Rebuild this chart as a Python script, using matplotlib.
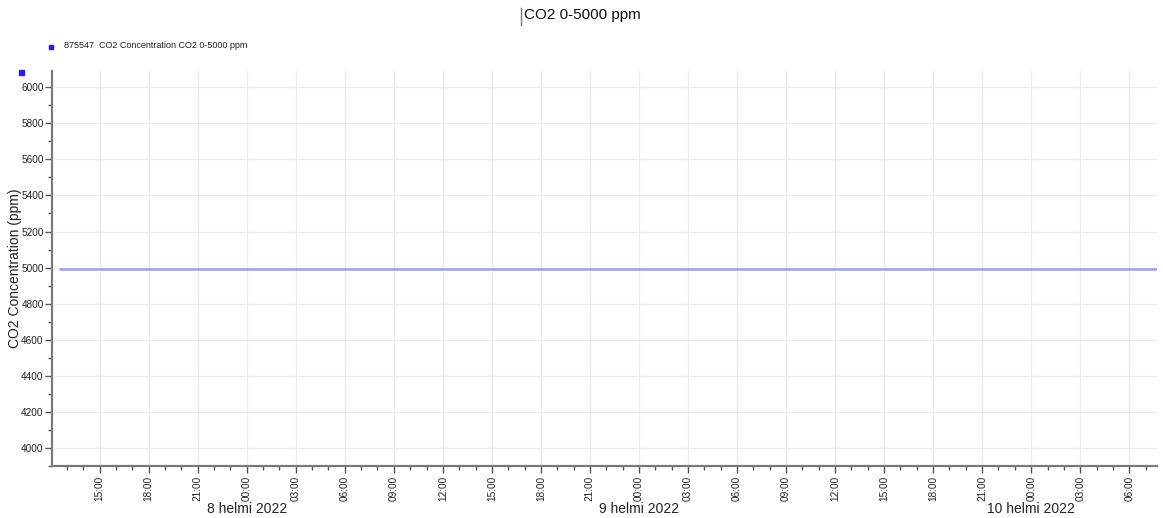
import numpy as np
import pandas as pd
import matplotlib
matplotlib.use("Agg")
import matplotlib.pyplot as plt
import matplotlib.dates as mdates
from matplotlib.lines import Line2D
from matplotlib.patches import Rectangle

plt.rcParams["font.family"] = ["Liberation Sans", "DejaVu Sans"]

# Data: a flat reading just under 5000 ppm
times = pd.to_datetime(["2022-02-07 12:32", "2022-02-10 07:41"])
co2_ppm = [4993, 4993]

x_start = pd.Timestamp("2022-02-07 12:05")
x_end = pd.Timestamp("2022-02-10 07:42")
y_min, y_max = 3900, 6090
y_ticks = np.arange(4000, 6001, 200)
day_labels = ["8 helmi 2022", "9 helmi 2022", "10 helmi 2022"]
day_midnights = pd.to_datetime(["2022-02-08", "2022-02-09", "2022-02-10"])

series_name = "875547  CO2 Concentration CO2 0-5000 ppm"
title = "CO2 0-5000 ppm"
ylabel = "CO2 Concentration (ppm)"

W, H = 1163, 518
fig = plt.figure(figsize=(W / 100, H / 100), dpi=100)
ax = fig.add_axes([52 / W, (H - 466) / H, (1157 - 52) / W, (466 - 71) / H])

line_col = "#9f9ff0"
ax.plot(times, co2_ppm, color=line_col, linewidth=1.8, solid_capstyle="butt")

ax.set_xlim(x_start, x_end)
ax.set_ylim(y_min, y_max)
ax.set_yticks(y_ticks)
ax.yaxis.set_minor_locator(matplotlib.ticker.MultipleLocator(100))
ax.xaxis.set_major_locator(mdates.HourLocator(byhour=range(0, 24, 3)))
ax.xaxis.set_minor_locator(mdates.HourLocator())
ax.xaxis.set_major_formatter(mdates.DateFormatter("%H:%M"))

ax.grid(True, which="major", color="#ebebeb", linewidth=0.9)
ax.set_axisbelow(True)
for s in ["top", "right"]:
    ax.spines[s].set_visible(False)
for s in ["left", "bottom"]:
    ax.spines[s].set_color("#7a7a7a")
    ax.spines[s].set_linewidth(1.6)

ax.tick_params(axis="both", which="major", length=5, width=1, color="#555555",
               labelsize=7.2, labelcolor="#222222")
ax.tick_params(axis="both", which="minor", length=3, width=1, color="#555555")
ax.tick_params(axis="x", which="major", labelrotation=90, pad=2)
ax.tick_params(axis="y", which="major", pad=1)

for lab, t in zip(day_labels, day_midnights):
    ax.annotate(lab, xy=(mdates.date2num(t), 0), xycoords=("data", "axes fraction"),
                xytext=(0, -31), textcoords="offset points", ha="center", va="center",
                fontsize=10, color="#222222", annotation_clip=False)

ax.set_ylabel(ylabel, fontsize=10, color="#222222")
ax.yaxis.set_label_coords(-30 / (1157 - 52), 0.5)

fig.text(582 / W, 1 - 15 / H, title, ha="center", va="center", fontsize=11, color="#111111")
fig.add_artist(Line2D([520.5 / W, 520.5 / W], [1 - 8 / H, 1 - 25 / H], color="#777777", linewidth=1))

# legend markers
fig.add_artist(Rectangle((49 / W, 1 - 49 / H), 4 / W, 4 / H, color="#2222dd"))
fig.text(64 / W, 1 - 46 / H, series_name, ha="left", va="center", fontsize=6.5, color="#222222")
fig.add_artist(Rectangle((19 / W, 1 - 75 / H), 5 / W, 5 / H, color="#2222dd"))

fig.savefig("out.png", dpi=100)
